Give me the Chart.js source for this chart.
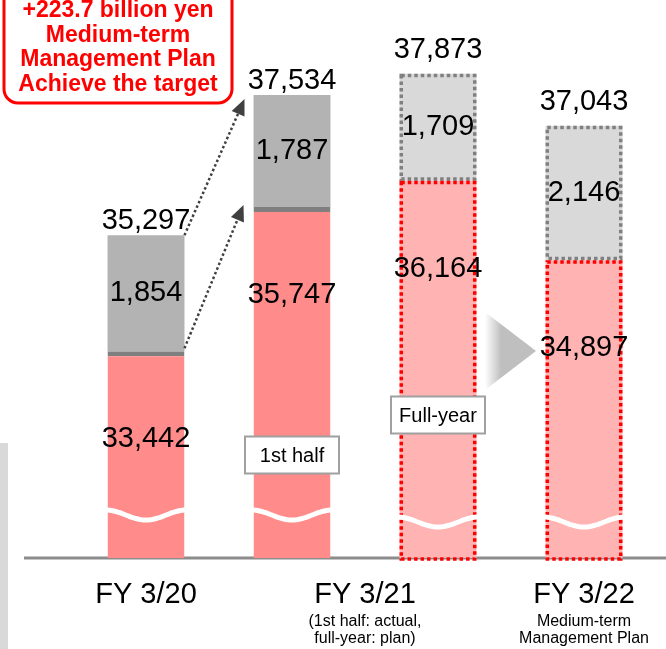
<!DOCTYPE html>
<html><head><meta charset="utf-8">
<script src="https://cdn.jsdelivr.net/npm/chart.js@4/dist/chart.umd.min.js"></script>
<style>html,body{margin:0;padding:0;background:#fff}#wrap{position:relative;width:666px;height:649px}</style>
</head><body><div id="wrap"><canvas id="c"></canvas></div>
<script>
// ---- data ----
const barKeys = ['FY 3/20', 'FY 3/21 1st half', 'FY 3/21 full-year', 'FY 3/22'];
const baseValues = [33442, 35747, 36164, 34897];
const addValues = [1854, 1787, 1709, 2146];
const totalValues = [35297, 37534, 37873, 37043];
const barStatus = ['actual', 'actual', 'plan', 'plan'];
const barTags = ['', '1st half', 'Full-year', ''];
const yearLabels = ['FY 3/20', 'FY 3/21', 'FY 3/22'];
const yearBars = [[0], [1, 2], [3]];
const yearNotes = [[], ['(1st half: actual,', 'full-year: plan)'], ['Medium-term', 'Management Plan']];
const calloutLines = ['+223.7 billion yen', 'Medium-term', 'Management Plan', 'Achieve the target'];
const axisRange = [30140, 38893];

const fmt = v => v.toLocaleString('en-US');
const FONT = '"Liberation Sans", Arial, Helvetica, sans-serif';

const isPlan = i => barStatus[i] === 'plan';

function arrow(ctx, x1, y1, x2, y2) {
  const ang = Math.atan2(y2 - y1, x2 - x1);
  const L = 16, W = 7;
  const bx = x2 - L * Math.cos(ang), by = y2 - L * Math.sin(ang);
  ctx.save();
  ctx.strokeStyle = '#404040';
  ctx.lineWidth = 2.5;
  ctx.setLineDash([2.5, 2.5]);
  ctx.beginPath(); ctx.moveTo(x1, y1); ctx.lineTo(bx, by); ctx.stroke();
  ctx.setLineDash([]);
  ctx.fillStyle = '#404040';
  ctx.beginPath();
  ctx.moveTo(x2, y2);
  ctx.lineTo(bx + W * Math.sin(ang), by - W * Math.cos(ang));
  ctx.lineTo(bx - W * Math.sin(ang), by + W * Math.cos(ang));
  ctx.closePath(); ctx.fill();
  ctx.restore();
}

const deco = {
  id: 'deco',
  beforeDatasetsDraw(chart) {
    const ctx = chart.ctx, a = chart.chartArea;
    ctx.save();
    ctx.fillStyle = '#d9d9d9';
    ctx.fillRect(0, 443, 8, chart.height - 443);
    ctx.strokeStyle = '#8c8c8c';
    ctx.lineWidth = 3;
    ctx.beginPath(); ctx.moveTo(24, a.bottom); ctx.lineTo(chart.width, a.bottom); ctx.stroke();
    ctx.restore();
  },
  afterDatasetsDraw(chart) {
    const ctx = chart.ctx, a = chart.chartArea;
    const red = chart.getDatasetMeta(0).data, gray = chart.getDatasetMeta(1).data;
    ctx.save();
    // dotted borders for planned bars
    barKeys.forEach((k, i) => {
      if (!isPlan(i)) return;
      const r = red[i], g = gray[i];
      const l = r.x - r.width / 2, w = r.width;
      const bottom = Math.min(r.base, a.bottom) + 1;
      ctx.lineWidth = 3.5;
      ctx.setLineDash([3.5, 3]);
      ctx.strokeStyle = '#808080';
      ctx.strokeRect(l + 1.75, g.y + 1.75, w - 3.5, g.base - g.y - 3.5);
      ctx.strokeStyle = '#ff0000';
      ctx.strokeRect(l + 1.75, r.y + 1.75, w - 3.5, bottom - r.y - 1.75);
    });
    ctx.setLineDash([]);
    // break waves
    barKeys.forEach((k, i) => {
      const r = red[i];
      const l = r.x - r.width / 2 - 2, w = r.width + 4;
      const yc = a.bottom - (isPlan(i) ? 36 : 43);
      ctx.strokeStyle = '#ffffff';
      ctx.lineWidth = 5;
      ctx.beginPath();
      for (let s = 0; s <= 40; s++) {
        const t = s / 40;
        const x = l + w * t, y = yc - 5 * Math.cos(2 * Math.PI * t);
        if (s === 0) ctx.moveTo(x, y); else ctx.lineTo(x, y);
      }
      ctx.stroke();
    });
    // chevron between full-year plan and medium-term plan
    {
      const cx = ((red[2].x + red[2].width / 2) + (red[3].x - red[3].width / 2)) / 2;
      const cy = a.bottom - 207;
      const x0 = cx - 26, x1 = cx + 25;
      const grad = ctx.createLinearGradient(x0, 0, x0 + 16, 0);
      grad.addColorStop(0, '#ffffff');
      grad.addColorStop(1, '#bfbfbf');
      ctx.fillStyle = grad;
      ctx.beginPath(); ctx.moveTo(x0, cy - 39); ctx.lineTo(x1, cy); ctx.lineTo(x0, cy + 39); ctx.closePath(); ctx.fill();
    }
    // tag boxes
    barKeys.forEach((k, i) => {
      if (!barTags[i]) return;
      const r = red[i];
      const cy = a.bottom - (isPlan(i) ? 143 : 103);
      const bw = 94, bh = 37;
      ctx.fillStyle = '#fff';
      ctx.fillRect(r.x - bw / 2, cy - bh / 2, bw, bh);
      ctx.strokeStyle = '#a0a0a0'; ctx.lineWidth = 2;
      ctx.strokeRect(r.x - bw / 2, cy - bh / 2, bw, bh);
      ctx.fillStyle = '#000';
      ctx.font = '20px ' + FONT;
      ctx.textAlign = 'center'; ctx.textBaseline = 'middle';
      ctx.fillText(barTags[i], r.x, cy + 1);
    });
    // value labels
    ctx.fillStyle = '#000';
    ctx.font = '29px ' + FONT;
    ctx.textAlign = 'center';
    barKeys.forEach((k, i) => {
      const r = red[i], g = gray[i];
      ctx.textBaseline = 'middle';
      ctx.fillText(fmt(addValues[i]), r.x, (g.y + g.base) / 2);
      ctx.fillText(fmt(baseValues[i]), r.x, r.y + 88);
      ctx.textBaseline = 'alphabetic';
      ctx.fillText(fmt(totalValues[i]), r.x, g.y - (isPlan(i) ? 16 : 6));
    });
    // arrows from FY3/20 to FY3/21 1st half
    {
      const r0 = red[0], g0 = gray[0], r1 = red[1], g1 = gray[1];
      const right0 = r0.x + r0.width / 2, left1 = r1.x - r1.width / 2;
      arrow(ctx, right0, g0.y, left1 - 9, g1.y + 4);
      arrow(ctx, right0, r0.y - 3, left1 - 10, r1.y - 2);
    }
    // callout
    ctx.fillStyle = '#fff';
    ctx.strokeStyle = '#ff0000';
    ctx.lineWidth = 3;
    ctx.beginPath(); ctx.roundRect(4, -20, 228, 123, 14); ctx.fill(); ctx.stroke();
    ctx.fillStyle = '#ff0000';
    ctx.font = 'bold 23px ' + FONT;
    ctx.textAlign = 'center'; ctx.textBaseline = 'alphabetic';
    calloutLines.forEach((t, j) => ctx.fillText(t, 118, 17 + j * 24.7));
    // x labels
    ctx.fillStyle = '#000';
    yearLabels.forEach((t, j) => {
      const xs = yearBars[j].map(i => red[i].x);
      const cx = xs.reduce((s, v) => s + v, 0) / xs.length;
      ctx.font = '29px ' + FONT;
      ctx.fillText(t, cx, a.bottom + 45);
      ctx.font = '16px ' + FONT;
      yearNotes[j].forEach((n, m) => ctx.fillText(n, cx, a.bottom + 68 + m * 17));
    });
    ctx.restore();
  }
};

new Chart(document.getElementById('c'), {
  type: 'bar',
  data: {
    labels: barKeys,
    datasets: [
      {
        label: 'base',
        data: baseValues,
        backgroundColor: c => isPlan(c.dataIndex) ? '#ffb3b3' : '#ff8b8b',
        borderColor: '#7f7f7f',
        borderWidth: c => isPlan(c.dataIndex) ? 0 : { top: 5, left: 0, right: 0, bottom: 0 },
        borderSkipped: false
      },
      {
        label: 'add',
        data: addValues,
        backgroundColor: c => isPlan(c.dataIndex) ? '#d9d9d9' : '#b3b3b3',
        borderWidth: 0
      }
    ]
  },
  options: {
    responsive: true,
    maintainAspectRatio: false,
    animation: false,
    layout: { padding: { left: 73, right: 9, top: 10, bottom: 91 } },
    datasets: { bar: { barPercentage: 0.527, categoryPercentage: 1 } },
    plugins: { legend: { display: false }, tooltip: { enabled: false } },
    scales: {
      x: { stacked: true, display: false },
      y: { stacked: true, display: false, min: axisRange[0], max: axisRange[1] }
    }
  },
  plugins: [deco]
});
</script>
</body></html>
